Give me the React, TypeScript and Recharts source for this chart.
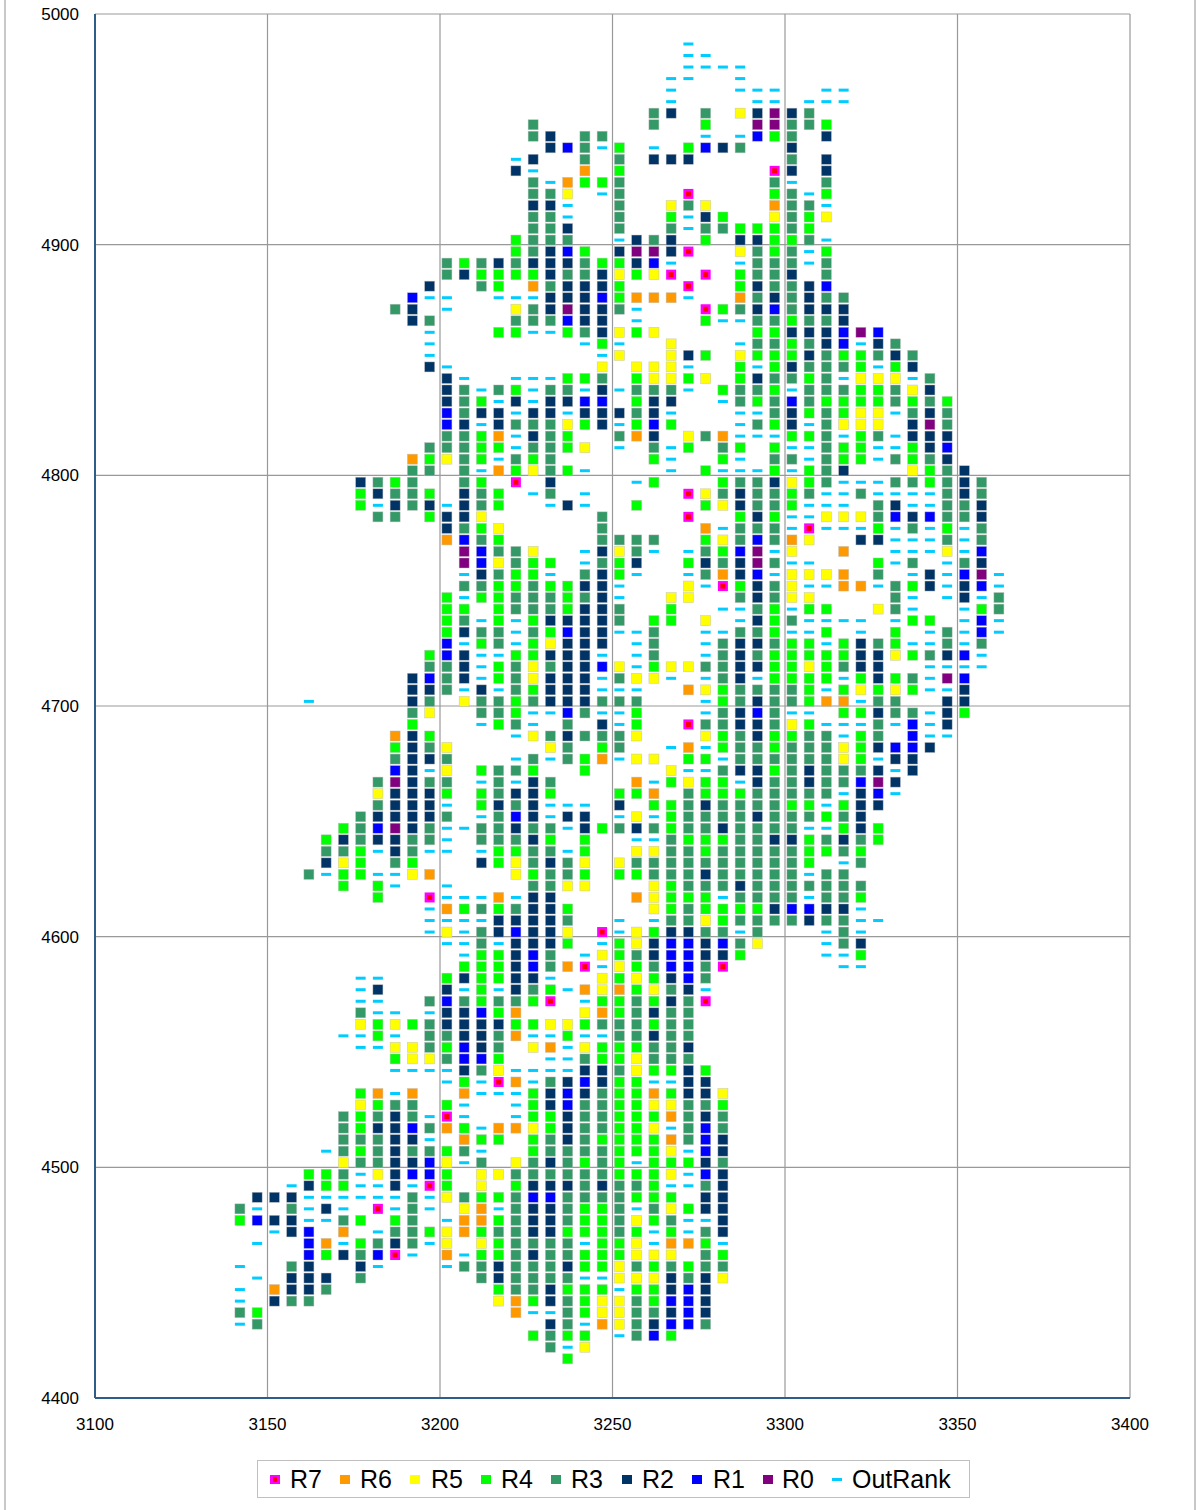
import React from "react";
import { ScatterChart, Scatter, XAxis, YAxis, CartesianGrid, Legend } from "recharts";

const xTicks = [3100, 3150, 3200, 3250, 3300, 3350, 3400];
const yTicks = [4400, 4500, 4600, 4700, 4800, 4900, 5000];
const columnX = [3142, 3147, 3152, 3157, 3162, 3167, 3172, 3177, 3182, 3187, 3192, 3197, 3202, 3207, 3212, 3217, 3222, 3227, 3232, 3237, 3242, 3247, 3252, 3257, 3262, 3267, 3272, 3277, 3282, 3287, 3292, 3297, 3302, 3307, 3312, 3317, 3322, 3327, 3332, 3337, 3342, 3347, 3352, 3357, 3362];
const rankCodes = ["7", "6", "5", "4", "3", "2", "1", "0", "o"];
const rankNames = ["R7", "R6", "R5", "R4", "R3", "R2", "R1", "R0", "OutRank"];
const rankColors = ["#ff00ff", "#ff9900", "#ffff00", "#00ff00", "#339966", "#003366", "#0000ff", "#800080", "#00ccff"];

// each row: [y value, "columnIndex rankCode,..."]
const rows: [number, string][] = [
  [4987, "26 o"],
  [4982, "26 o,27 o"],
  [4977, "26 o,27 o,28 o,29 o"],
  [4972, "25 o,26 o,29 o"],
  [4967, "25 o,29 o,30 o,31 o,34 o,35 o"],
  [4962, "25 o,30 o,31 o,33 o,34 o,35 o"],
  [4957, "24 3,25 2,27 3,29 5,30 2,31 0,32 2,33 3"],
  [4952, "17 3,24 3,27 4,30 0,31 0,32 3,33 3,34 4"],
  [4947, "17 3,18 2,20 3,21 3,27 o,29 o,30 1,31 4,32 3,34 2"],
  [4942, "18 2,19 1,20 3,21 o,22 4,24 o,26 4,27 1,28 2,29 3,32 2"],
  [4937, "16 o,17 2,20 3,22 3,24 2,25 2,26 2,32 3,34 2"],
  [4932, "16 2,17 o,20 6,22 4,31 7,32 2,34 2"],
  [4927, "17 3,18 o,19 6,20 4,21 4,22 3,31 3,32 o,34 3"],
  [4922, "17 3,18 3,19 5,21 o,22 3,26 7,31 4,32 3,33 o,34 4"],
  [4917, "17 2,18 2,19 o,22 3,25 5,26 3,27 5,31 6,32 3,33 3,34 o"],
  [4912, "17 3,18 3,19 o,22 3,25 4,26 o,27 2,28 4,31 5,32 3,33 4,34 5"],
  [4907, "17 3,18 3,19 2,22 3,25 3,26 o,27 3,28 3,29 4,30 4,31 4,32 3,33 4"],
  [4902, "16 4,17 3,18 3,19 3,22 o,23 2,24 3,25 2,27 4,29 2,30 2,31 4,32 4,33 3,34 o"],
  [4897, "16 4,17 3,18 2,19 1,20 4,22 2,23 0,24 0,25 2,26 7,29 5,30 3,31 4,32 3,33 o,34 4"],
  [4892, "12 3,13 4,14 3,15 2,16 3,17 2,18 2,19 2,20 3,21 4,22 4,23 2,24 1,25 o,29 o,30 3,31 3,32 3,33 o,34 3"],
  [4887, "12 3,13 2,14 4,15 4,16 4,17 4,18 2,19 3,20 3,21 2,22 5,23 4,24 5,25 7,27 7,29 4,30 3,31 3,32 2,34 3"],
  [4882, "11 2,14 3,15 4,17 6,18 3,19 2,20 2,21 2,22 4,26 7,29 4,30 2,31 3,32 3,33 2,34 1"],
  [4877, "10 1,11 o,12 o,15 o,16 o,17 o,18 2,19 2,20 2,21 1,22 4,23 6,24 6,25 6,26 o,29 6,30 3,31 2,32 3,33 2,34 3,35 3"],
  [4872, "9 3,10 2,12 o,16 5,17 3,18 2,19 0,20 2,21 2,22 3,23 o,27 7,28 4,29 3,30 2,31 1,32 3,33 2,34 2,35 2"],
  [4867, "10 2,11 3,16 3,17 3,18 3,19 1,20 2,21 2,23 o,27 4,28 o,29 o,30 3,31 3,32 4,33 3,34 3,35 2"],
  [4862, "11 o,15 4,16 4,17 o,18 o,19 4,20 3,21 2,22 5,23 4,24 5,30 4,31 4,32 2,33 2,34 2,35 1,36 0,37 1"],
  [4857, "11 o,20 o,21 4,22 o,25 5,29 o,30 3,31 3,32 4,33 3,34 2,35 1,36 o,37 2,38 3"],
  [4852, "11 o,21 o,22 5,25 5,26 2,27 4,29 5,30 4,31 4,32 4,33 2,34 3,35 4,36 4,37 3,38 2,39 3"],
  [4847, "11 2,12 o,21 5,23 5,24 5,25 5,26 o,29 4,30 o,31 4,32 2,33 3,34 3,35 3,36 4,37 o,38 4,39 2"],
  [4842, "12 2,13 o,16 o,17 o,18 o,19 4,20 4,21 3,23 4,24 5,25 5,26 4,27 5,29 4,30 2,31 3,32 3,33 4,34 3,35 o,36 5,37 5,38 5,39 o,40 3"],
  [4837, "12 2,13 3,14 o,15 3,16 4,17 o,18 3,19 3,20 o,21 2,22 o,23 3,24 3,25 3,26 o,28 4,29 3,30 3,31 4,32 o,33 3,34 3,35 3,36 4,37 4,38 3,39 5,40 2"],
  [4832, "12 2,13 3,14 4,15 o,16 2,17 o,18 2,19 2,20 1,21 1,23 4,24 2,25 2,28 o,29 3,30 4,31 3,32 1,33 3,34 4,35 4,36 4,37 4,38 3,39 4,40 3,41 4"],
  [4827, "12 1,13 3,14 2,15 2,16 o,17 2,18 2,19 o,20 2,21 2,22 2,23 3,24 2,25 o,29 o,30 o,31 3,32 2,33 4,34 3,35 4,36 5,37 5,38 o,39 3,40 2,41 3"],
  [4822, "12 1,13 2,14 o,15 2,16 3,17 3,18 3,19 5,20 4,21 2,22 o,23 4,24 1,25 4,29 o,30 3,31 4,32 2,33 o,34 3,35 5,36 5,37 5,39 2,40 0,41 3"],
  [4817, "12 3,13 3,14 4,15 6,16 o,17 2,18 3,19 4,22 3,23 6,24 2,26 5,27 3,28 6,29 o,30 o,31 o,32 4,33 4,34 3,35 o,36 4,37 3,38 o,39 2,40 2,41 2"],
  [4812, "11 3,12 3,13 3,14 4,15 4,16 o,17 3,18 3,19 4,20 5,22 o,24 3,25 o,26 4,28 3,29 4,31 4,32 o,33 o,34 3,35 4,36 4,37 o,38 o,39 4,40 2,41 1"],
  [4807, "10 6,11 4,12 5,13 3,14 4,15 o,16 3,17 4,18 3,24 4,25 o,28 4,29 o,31 3,32 3,33 o,34 3,35 4,36 4,37 o,38 3,39 4,40 3,41 2"],
  [4802, "10 3,11 3,13 3,14 o,15 6,16 4,17 5,18 3,19 4,20 o,25 o,27 4,28 o,29 o,30 o,31 4,32 o,33 4,34 3,35 2,39 5,40 4,41 3,42 2"],
  [4797, "7 2,8 3,9 4,10 3,13 3,14 4,16 7,18 2,23 o,24 4,28 4,29 3,30 3,31 2,32 5,33 4,34 3,35 o,36 o,37 o,38 3,39 3,40 4,41 3,42 2,43 3"],
  [4792, "7 4,8 2,9 3,10 3,11 4,13 2,14 3,15 4,17 o,18 3,20 o,26 7,27 5,28 3,29 2,30 3,31 3,32 4,33 3,34 o,35 o,36 3,37 o,38 o,39 o,40 o,41 3,42 2,43 3"],
  [4787, "7 4,8 o,9 2,10 3,11 2,12 o,13 2,14 3,15 4,18 o,19 2,20 o,23 4,27 4,28 5,29 2,30 3,31 3,32 4,33 o,34 o,35 o,37 3,38 2,39 o,40 o,41 3,42 3,43 2"],
  [4782, "8 3,9 3,11 4,12 2,13 2,14 5,21 3,26 7,29 4,30 2,31 4,32 o,33 o,34 5,35 5,36 5,37 3,38 1,39 2,40 1,41 3,42 3,43 2"],
  [4777, "12 2,13 3,14 4,15 5,21 3,27 6,28 o,29 3,30 3,31 3,32 o,33 7,34 o,35 o,36 o,37 4,38 o,39 3,40 o,41 4,42 o,43 3"],
  [4772, "12 6,13 1,14 3,15 4,21 3,22 3,23 3,24 3,27 4,28 5,29 3,30 1,31 3,32 6,33 5,36 2,37 2,38 o,39 o,40 o,41 3,42 o,43 3"],
  [4767, "13 0,14 1,15 3,16 3,17 5,20 o,21 2,22 5,23 3,24 o,26 o,27 3,28 4,29 1,30 0,31 o,32 5,35 6,38 o,39 o,40 o,41 5,42 o,43 1"],
  [4762, "13 0,14 1,15 5,16 3,17 4,18 4,20 o,21 3,22 4,23 2,26 4,27 2,28 3,29 2,30 0,31 3,32 o,33 o,37 4,38 o,39 3,41 o,42 3,43 2"],
  [4757, "13 o,14 2,15 3,16 4,17 4,18 o,20 3,21 2,22 4,23 o,26 o,27 3,28 6,29 2,30 1,31 o,32 5,33 5,34 5,35 6,37 3,39 o,40 2,41 o,42 1,43 0,44 o"],
  [4752, "13 3,14 3,15 4,16 4,17 3,18 4,19 4,20 2,21 2,22 o,26 5,27 o,28 7,29 4,30 2,31 3,32 5,33 o,34 o,35 6,36 6,37 o,38 3,39 4,40 2,41 o,42 2,43 1,44 o"],
  [4747, "12 4,13 o,14 4,15 4,16 3,17 3,18 3,19 4,20 3,21 2,22 o,25 5,26 5,29 3,30 2,31 3,32 5,33 5,38 3,39 o,41 o,42 2,43 o,44 3"],
  [4742, "12 4,13 4,15 4,16 3,17 3,18 3,19 4,20 2,21 2,22 3,25 4,28 o,29 o,30 3,31 4,32 o,33 4,34 4,37 5,38 3,39 o,42 o,43 4,44 3"],
  [4737, "12 4,13 3,14 o,15 4,16 o,17 4,18 2,19 2,20 2,21 2,22 3,24 4,25 4,27 5,29 o,30 2,31 4,32 3,33 o,34 o,35 o,36 o,38 o,39 4,40 4,42 o,43 1,44 o"],
  [4732, "12 4,13 2,14 3,15 3,16 o,17 3,18 4,19 1,20 2,21 2,22 o,23 o,24 3,27 o,28 o,29 3,30 3,31 4,32 o,33 o,34 4,36 o,38 4,40 o,41 3,42 o,43 1,44 o"],
  [4727, "12 1,13 o,14 4,15 3,16 o,17 4,18 5,19 2,20 2,21 2,23 o,24 3,27 o,28 3,29 2,30 2,31 3,32 4,33 4,34 o,35 4,36 2,37 3,38 4,39 o,40 o,41 3,42 o,43 3"],
  [4722, "11 4,12 1,13 2,14 o,15 o,16 4,17 4,18 2,19 2,20 2,21 o,23 o,24 3,27 o,28 3,29 2,30 3,31 4,32 4,33 4,34 4,35 4,36 2,37 2,38 5,39 4,40 3,41 2,42 1,43 o"],
  [4717, "11 3,12 3,13 2,14 o,15 4,16 3,17 5,18 3,19 2,20 2,21 1,22 5,23 o,24 4,25 5,26 5,27 3,28 3,29 2,30 2,31 4,32 4,33 5,34 4,35 3,36 2,37 2,40 o,41 o,42 o,43 o"],
  [4712, "10 2,11 1,12 3,13 2,14 o,15 4,16 3,17 5,18 2,19 2,20 2,21 o,22 3,23 5,24 5,25 o,27 o,28 3,29 2,30 o,31 4,32 4,33 4,34 4,35 o,36 4,37 2,38 4,39 3,40 o,41 0,42 1"],
  [4707, "10 2,11 2,12 3,13 o,14 2,15 o,16 3,17 4,18 2,19 2,20 2,21 o,22 o,23 o,26 6,27 5,28 4,29 3,30 3,31 3,32 3,33 4,34 o,35 4,36 5,37 4,38 5,39 4,40 o,41 o,42 2"],
  [4702, "4 o,10 2,11 3,13 5,14 3,15 3,16 4,17 3,18 2,19 2,20 2,21 3,22 3,23 3,27 o,28 4,29 3,30 2,31 3,32 3,33 4,34 6,35 6,36 o,37 3,38 3,41 2,42 2"],
  [4697, "10 3,11 5,14 3,15 3,16 4,17 o,18 o,19 1,20 3,21 o,22 o,23 4,27 o,28 3,29 2,30 1,31 3,32 o,33 o,35 4,36 4,37 2,38 3,39 3,40 o,41 2,42 4"],
  [4692, "10 4,14 o,15 4,16 3,17 o,19 3,21 2,22 o,23 4,26 7,27 3,28 3,29 2,30 2,31 3,32 5,33 4,34 o,35 o,36 o,37 3,38 o,39 1,40 o,41 2"],
  [4687, "9 6,10 2,11 4,16 o,17 5,18 3,19 2,20 3,21 3,22 3,23 5,27 5,28 4,29 3,30 2,31 4,32 4,33 3,34 3,35 o,36 4,37 3,39 1,40 o,41 o"],
  [4682, "9 4,10 2,11 3,12 5,18 5,19 3,21 4,22 3,25 o,26 6,27 o,28 4,29 3,30 3,31 4,32 3,33 3,34 3,35 5,36 4,37 2,38 1,39 1,40 2"],
  [4677, "9 3,10 2,11 2,12 3,16 o,17 3,18 o,19 3,20 4,21 6,22 o,23 5,24 5,26 4,27 4,28 o,29 3,30 3,31 3,32 3,33 3,34 3,35 5,36 4,37 o,38 2,39 2"],
  [4672, "9 1,10 2,11 o,12 5,14 4,15 3,16 3,17 4,20 4,25 5,26 o,27 o,28 3,29 2,30 2,31 4,32 3,33 2,34 3,35 3,36 3,37 2,38 o,39 2"],
  [4667, "8 3,9 0,10 2,11 3,12 3,14 o,15 3,16 o,17 2,18 3,23 6,24 o,25 4,26 5,27 4,28 4,29 o,30 2,31 3,32 3,33 2,34 3,35 3,36 1,37 0,38 2"],
  [4662, "8 5,9 2,10 2,11 2,12 4,14 4,15 3,16 2,17 2,18 4,22 4,23 4,24 6,26 3,27 4,28 4,29 4,30 3,31 3,32 3,33 3,34 3,35 o,36 2,37 1,38 o"],
  [4657, "8 3,9 2,10 2,11 2,12 o,14 4,15 2,16 3,17 2,18 o,19 o,20 o,22 2,24 4,25 4,26 3,27 2,28 3,29 3,30 3,31 3,32 4,33 4,34 o,35 4,36 2,37 2"],
  [4652, "7 3,8 2,9 2,10 2,11 2,12 3,14 o,15 3,16 1,17 2,18 o,19 2,20 2,22 o,23 5,24 o,25 4,26 3,27 3,28 3,29 3,30 2,31 3,32 3,33 3,34 4,35 3,36 2"],
  [4647, "6 4,7 3,8 1,9 0,10 2,11 3,12 o,13 o,14 3,15 3,16 2,17 3,18 3,19 o,20 2,21 4,22 3,23 2,24 3,25 4,26 3,27 3,28 2,29 3,30 3,31 3,32 3,33 o,34 o,35 4,36 2,37 4"],
  [4642, "5 4,6 2,7 3,8 2,9 2,10 3,11 3,12 o,14 3,15 3,16 3,17 2,18 4,20 4,23 o,24 o,25 3,26 4,27 4,28 4,29 3,30 3,31 2,32 2,33 4,34 3,35 2,36 3,37 4"],
  [4637, "5 3,6 3,7 4,8 o,9 2,10 3,11 o,12 o,14 o,15 4,16 4,17 3,18 3,19 o,20 4,23 5,24 5,25 3,26 3,27 4,28 3,29 3,30 3,31 3,32 3,33 4,34 4,35 3,36 4"],
  [4632, "5 2,6 5,7 4,9 3,10 4,14 2,15 4,16 5,17 3,18 2,19 3,20 5,22 5,23 3,24 3,25 3,26 3,27 3,28 3,29 3,30 3,31 3,32 3,33 4,35 o,36 3"],
  [4627, "4 3,5 o,6 4,7 4,8 o,9 o,10 5,11 6,16 5,17 4,18 3,19 3,20 4,22 4,23 4,24 3,25 3,26 3,27 2,28 3,29 3,30 3,31 3,32 3,33 o,34 3,35 3"],
  [4622, "6 4,8 4,9 o,12 o,17 3,18 3,19 5,20 5,24 5,25 4,26 3,27 3,28 3,29 2,30 3,31 3,32 3,33 3,34 3,35 3,36 3"],
  [4617, "8 4,11 7,12 o,13 o,14 o,15 6,16 o,17 2,18 2,23 6,24 5,25 4,26 4,27 4,28 o,29 3,30 3,31 3,32 3,33 o,34 3,35 3,36 4"],
  [4612, "11 o,12 6,13 4,14 3,15 4,16 3,17 2,18 2,19 4,24 5,25 4,26 3,27 4,28 4,29 4,30 4,31 2,32 1,33 1,34 2,35 2,36 o"],
  [4607, "11 o,12 o,13 o,14 o,15 2,16 2,17 2,18 2,19 3,22 o,24 o,25 3,26 3,27 5,28 4,29 3,30 3,31 3,32 3,33 2,34 3,35 3,36 o,37 o"],
  [4602, "11 o,12 5,13 o,14 3,15 2,16 1,17 2,18 2,19 5,21 7,22 o,23 5,24 4,25 2,26 2,27 3,28 3,29 o,30 3,34 o,35 3,36 o"],
  [4597, "12 o,13 o,14 3,15 o,16 2,17 2,18 2,19 4,21 o,22 4,23 5,24 2,25 1,26 1,27 2,28 1,29 3,30 5,34 o,35 3,36 2"],
  [4592, "13 o,14 4,15 4,16 2,17 1,18 3,20 o,21 5,22 4,23 3,24 2,25 1,26 1,27 2,28 2,29 4,34 o,35 o,36 4"],
  [4587, "13 4,14 4,15 4,16 2,17 1,18 3,19 6,20 7,21 o,22 5,23 4,24 3,25 1,26 1,27 3,28 7,35 o,36 o"],
  [4582, "7 o,8 o,12 4,13 2,14 4,15 4,16 2,17 2,18 o,21 5,22 4,23 5,24 4,25 2,26 1,27 3"],
  [4577, "7 o,8 2,12 2,13 o,14 4,15 o,16 2,17 3,18 4,19 o,20 6,21 5,22 6,23 4,24 5,25 3,26 2,27 o"],
  [4572, "7 o,8 o,11 3,12 1,13 3,14 4,15 3,16 3,17 4,18 7,20 o,21 4,22 4,23 3,24 4,25 2,26 3,27 7"],
  [4567, "7 3,8 o,9 o,11 o,12 2,13 2,14 1,15 4,16 6,20 5,21 6,22 4,23 3,24 2,25 3,26 3"],
  [4562, "7 5,8 4,9 5,10 4,11 3,12 2,13 2,14 2,15 2,16 4,17 4,18 5,19 5,20 4,21 3,22 3,23 3,24 4,25 3,26 3"],
  [4557, "6 o,7 o,8 4,9 o,11 3,12 3,13 2,14 2,15 3,16 6,17 o,18 o,19 4,20 o,21 o,22 3,23 3,24 2,25 3,26 3"],
  [4552, "7 o,8 o,9 5,10 5,11 3,12 4,13 1,14 2,15 3,17 5,18 6,19 o,20 5,21 4,22 4,23 4,24 3,25 3,26 2"],
  [4547, "9 4,10 5,11 5,12 3,13 1,14 1,15 4,18 o,19 o,20 3,21 4,22 4,23 5,24 3,25 3,26 3"],
  [4542, "9 o,10 o,11 o,12 o,13 2,14 3,15 5,16 o,17 o,18 o,19 o,20 2,21 2,22 3,23 5,24 4,25 4,26 2,27 4"],
  [4537, "12 o,13 4,14 o,15 7,16 6,17 o,18 3,19 2,20 1,21 2,22 4,23 4,24 o,25 o,26 2,27 2"],
  [4532, "7 4,8 6,9 o,10 6,13 6,14 o,15 o,16 o,17 4,18 2,19 1,20 2,21 3,22 4,23 4,24 6,25 4,26 2,27 2,28 5"],
  [4527, "7 5,8 4,9 3,10 3,12 4,13 o,16 o,17 4,18 2,19 1,20 3,21 3,22 4,23 4,24 5,25 5,26 3,27 3,28 4"],
  [4522, "6 3,7 4,8 3,9 2,10 3,11 o,12 7,13 o,16 o,17 4,18 4,19 2,20 3,21 3,22 4,23 4,24 4,25 6,26 3,27 2,28 3"],
  [4517, "6 3,7 4,8 2,9 2,10 1,11 3,12 6,13 4,14 o,15 6,16 6,17 5,18 4,19 2,20 3,21 3,22 4,23 4,24 5,25 o,26 3,27 1,28 3"],
  [4512, "6 3,7 3,8 3,9 2,10 2,11 o,13 6,14 4,15 4,17 4,18 3,19 2,20 3,21 4,22 4,23 4,24 4,25 6,26 3,27 1,28 2"],
  [4507, "5 o,6 3,7 4,8 3,9 2,10 3,11 3,12 4,13 3,14 o,17 4,18 3,19 3,20 3,21 3,22 4,23 4,24 4,25 5,26 o,27 1,28 2"],
  [4502, "6 5,7 3,8 3,9 2,10 2,11 1,12 5,13 o,14 3,16 5,17 3,18 2,19 3,20 4,21 3,22 4,23 o,24 4,25 4,26 4,27 2,28 3"],
  [4497, "4 4,5 4,6 3,7 o,8 5,9 2,10 1,11 1,12 4,14 5,15 5,16 3,17 3,18 3,19 3,20 3,21 3,22 4,23 4,24 4,25 5,26 o,27 1,28 2"],
  [4492, "3 o,4 2,5 4,6 4,7 o,8 o,9 2,10 o,11 7,12 4,14 5,16 4,17 2,18 2,19 2,20 3,21 2,22 3,23 3,24 4,25 o,26 o,27 3,28 2"],
  [4487, "1 2,2 2,3 2,4 o,5 o,6 o,7 o,8 o,9 o,10 3,11 o,12 5,13 3,14 4,15 4,16 3,17 1,18 1,19 3,20 3,21 3,22 3,23 4,24 4,25 4,27 2,28 2"],
  [4482, "0 3,1 o,3 3,4 o,5 2,6 o,8 7,9 o,10 3,11 o,13 5,14 6,15 o,16 3,17 2,18 2,19 3,20 4,21 4,22 3,23 o,24 3,25 5,26 4,27 2,28 2"],
  [4477, "0 4,1 1,2 2,3 2,4 o,5 o,6 3,7 4,9 4,10 3,12 o,13 6,14 6,15 4,16 3,17 2,18 2,19 3,20 4,21 4,22 3,23 5,24 4,25 3,26 o,27 o,28 2"],
  [4472, "2 o,3 2,4 1,6 6,8 o,9 3,10 3,11 4,12 5,13 6,14 4,15 3,16 3,17 2,18 2,19 4,20 4,21 4,22 3,23 4,24 o,25 4,26 o,27 3,28 2"],
  [4467, "1 o,4 1,5 6,6 o,7 4,8 3,9 2,10 3,11 o,12 5,14 5,15 4,16 3,17 3,18 3,19 3,20 o,21 4,22 4,23 5,24 o,25 6,26 6,27 4,28 o"],
  [4462, "4 1,5 4,6 2,7 3,8 1,9 7,10 o,12 6,13 o,14 4,15 4,16 3,17 2,18 3,19 3,20 4,21 4,22 4,23 5,24 5,25 5,27 3,28 4"],
  [4457, "0 o,3 3,4 2,7 2,8 o,12 o,13 3,14 3,15 2,16 3,17 3,18 3,19 2,20 4,21 4,22 5,23 3,24 4,25 3,26 4,27 3,28 3"],
  [4452, "1 o,3 2,4 2,5 2,7 3,14 3,15 2,16 3,17 3,18 3,19 3,20 o,21 o,22 5,23 5,24 5,25 2,26 3,27 2,28 5"],
  [4447, "0 o,2 6,3 2,4 2,5 3,15 4,16 3,17 3,18 2,19 4,20 4,21 4,22 o,23 4,24 4,25 2,26 1,27 2"],
  [4442, "0 o,2 2,3 3,4 3,15 5,16 6,17 4,18 2,19 3,20 4,21 5,22 5,23 3,24 4,25 1,26 1,27 2"],
  [4437, "0 3,1 4,16 6,17 o,18 o,19 3,20 4,21 5,22 5,23 3,24 3,25 2,26 1,27 2"],
  [4432, "0 o,1 3,18 2,19 3,20 o,21 6,22 5,23 3,24 2,25 1,26 1,27 3"],
  [4427, "17 4,18 3,19 4,20 4,22 o,23 3,24 1,25 4"],
  [4422, "18 3,19 o,20 5"],
  [4417, "19 4"],
];

const seriesPoints = (code: string) => {
  const out: { x: number; y: number }[] = [];
  rows.forEach(([y, text]) => {
    text.split(",").forEach((t) => {
      const [c, k] = t.split(" ");
      if (k === code) out.push({ x: columnX[Number(c)], y });
    });
  });
  return out;
};

const makeShape = (index: number) => (props: any) => {
  const { cx, cy } = props;
  const color = rankColors[index];
  if (rankNames[index] === "OutRank") {
    return <rect x={cx - 5} y={cy - 1.5} width={10} height={3} fill={color} />;
  }
  if (rankNames[index] === "R7") {
    return (
      <g>
        <rect x={cx - 5} y={cy - 5} width={10} height={10} fill={color} />
        <rect x={cx - 2.5} y={cy - 2.5} width={5} height={5} fill="#ff0000" />
      </g>
    );
  }
  return <rect x={cx - 5} y={cy - 5} width={10} height={10} fill={color} stroke="#bbbbbb" strokeWidth={0.6} strokeOpacity={0.7} />;
};

const legendMarkerX = [17, 87, 157, 228, 298, 369, 439, 510, 579];
const legendTextX = [32, 102, 173, 243, 313, 384, 455, 524, 594];

const LegendBox = (props: any) => {
  const byName = new Map((props.payload || []).map((it: any) => [it.value, it]));
  return (
    <div style={{ position: "relative", width: 713, height: 38, boxSizing: "border-box", border: "1.5px solid #c0c0c0", background: "#fff", fontFamily: "'Liberation Sans', Arial, sans-serif" }}>
      {rankNames.filter((n) => byName.has(n)).map((name, i) => {
        const out = name === "OutRank";
        const r7 = name === "R7";
        return (
          <React.Fragment key={name}>
            <div style={{ position: "absolute", left: legendMarkerX[i] - 5, top: out ? 17 : 14, width: 10, height: out ? 3 : 9, background: rankColors[i] }} />
            {r7 && <div style={{ position: "absolute", left: legendMarkerX[i] - 2, top: 16, width: 4, height: 5, background: "#ff0000" }} />}
            <div style={{ position: "absolute", left: legendTextX[i], top: 3, fontSize: 25, lineHeight: "30px", color: "#000", whiteSpace: "nowrap" }}>{name}</div>
          </React.Fragment>
        );
      })}
    </div>
  );
};

export default function App() {
  return (
    <div style={{ position: "absolute", left: 0, top: 0, width: 1196, height: 1510, overflow: "hidden", background: "#fff" }}>
      <div style={{ position: "absolute", left: 4, top: 0, width: 1188, height: 1510, borderLeft: "2px solid #c8c8c8", borderRight: "2px solid #c8c8c8" }} />
      <div style={{ position: "absolute", left: 0, top: 0 }}>
        <ScatterChart width={1196} height={1510} margin={{ top: 14, right: 66, bottom: 34, left: 0 }}>
          <CartesianGrid stroke="#999999" strokeWidth={1.2} />
          <XAxis
            type="number"
            dataKey="x"
            domain={[3100, 3400]}
            ticks={xTicks}
            height={40}
            tickLine={false}
            tickMargin={14}
            stroke="#2f5d8a"
            strokeWidth={2}
            allowDataOverflow
            tick={{ fill: "#000", fontSize: 17, fontFamily: "'Liberation Sans', Arial, sans-serif" }}
          />
          <YAxis
            type="number"
            dataKey="y"
            domain={[4400, 5000]}
            ticks={yTicks}
            width={95}
            tickLine={false}
            tickMargin={10}
            stroke="#2f5d8a"
            strokeWidth={2}
            allowDataOverflow
            tick={{ fill: "#000", fontSize: 17, fontFamily: "'Liberation Sans', Arial, sans-serif" }}
          />
          {rankCodes.map((code, i) => (
            <Scatter
              key={code}
              name={rankNames[i]}
              data={seriesPoints(code)}
              fill={rankColors[i]}
              shape={makeShape(i)}
              isAnimationActive={false}
            />
          ))}
          <Legend
            content={<LegendBox />}
            height={38}
            wrapperStyle={{ position: "absolute", left: 257, top: 1460, bottom: "auto", width: 713, height: 38 }}
          />
        </ScatterChart>
      </div>
    </div>
  );
}
